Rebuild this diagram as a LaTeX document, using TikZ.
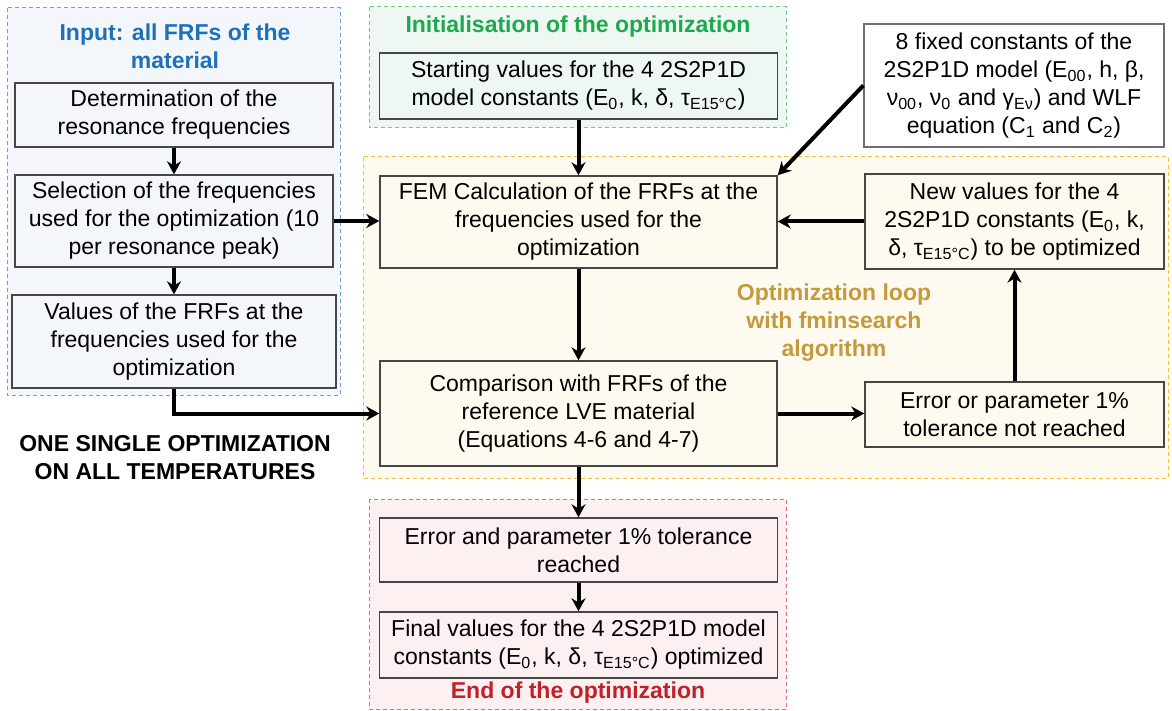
\documentclass[tikz,border=0pt]{standalone}
\usepackage{fontspec}
\setmainfont{Liberation Sans}
\definecolor{inblue}{RGB}{30,112,185}
\definecolor{inblueline}{RGB}{110,160,210}
\definecolor{inbluebg}{RGB}{243,247,251}
\definecolor{initgreen}{RGB}{30,168,80}
\definecolor{initgreenline}{RGB}{110,200,140}
\definecolor{initgreenbg}{RGB}{238,247,241}
\definecolor{loopgold}{RGB}{196,154,60}
\definecolor{loopline}{RGB}{245,190,60}
\definecolor{loopbg}{RGB}{254,250,240}
\definecolor{endred}{RGB}{192,32,40}
\definecolor{endline}{RGB}{225,110,115}
\definecolor{endbg}{RGB}{252,240,240}
\definecolor{boxgray}{RGB}{70,70,70}
\definecolor{fixgray}{RGB}{110,110,110}
\usetikzlibrary{arrows.meta}

\begin{document}
\begin{tikzpicture}[x=0.5pt,y=-0.5pt,>={Stealth[length=6.5pt,width=7pt]},
    every node/.style={font=\fontsize{11.5}{14}\selectfont},
    box/.style={draw=boxgray,line width=0.7pt,align=center,inner sep=2pt},
    region/.style={line width=0.5pt,dash pattern=on 2pt off 1.5pt},
    title/.style={font=\fontsize{11.5}{14}\selectfont\bfseries,align=center},
    flow/.style={->,line width=2pt}]
        \useasboundingbox (0,0) rectangle (1172,711);
        \fill[white] (0,0) rectangle (1172,711);

        \draw[region,draw=inblueline,fill=inbluebg] (7,8) rectangle (340,395);
        \draw[region,draw=initgreenline,fill=initgreenbg] (369,7) rectangle (786,128);
        \draw[region,draw=loopline,fill=loopbg] (363,157) rectangle (1168,478);
        \draw[region,draw=endline,fill=endbg] (369,499) rectangle (786,709.5);

        \node[title,text=inblue] (intitle) at (175,46.5) {Input: all FRFs of the\\material};
        \node[box,fill=inbluebg,minimum width=159pt,minimum height=32pt] (reso) at (174,115) {Determination of the\\resonance frequencies};
        \node[box,fill=inbluebg,minimum width=159pt,minimum height=46pt] (select) at (174,221) {Selection of the frequencies\\used for the optimization (10\\per resonance peak)};
        \node[box,fill=inbluebg,minimum width=162pt,minimum height=46.5pt] (values) at (174,341.5) {Values of the FRFs at the\\frequencies used for the\\optimization};
        \node[title] (single) at (175,458) {ONE SINGLE OPTIMIZATION\\ON ALL TEMPERATURES};

        \node[title,text=initgreen] (inittitle) at (578,27) {Initialisation of the optimization};
        \node[box,fill=initgreenbg,minimum width=199pt,minimum height=33pt] (start) at (578.5,86) {Starting values for the 4 2S2P1D\\model constants (E\textsubscript{0}, k, δ, τ\textsubscript{E15°C})};
        \node[box,draw=fixgray,fill=white,minimum width=150pt,minimum height=61.5pt] (fixed) at (1014,85.5) {8 fixed constants of the\\2S2P1D model (E\textsubscript{00}, h, β,\\ν\textsubscript{00}, ν\textsubscript{0} and γ\textsubscript{Eν}) and WLF\\equation (C\textsubscript{1} and C\textsubscript{2})};

        \node[box,fill=loopbg,minimum width=198.5pt,minimum height=46pt] (fem) at (578.5,222) {FEM Calculation of the FRFs at the\\frequencies used for the\\optimization};
        \node[box,fill=loopbg,minimum width=198.5pt,minimum height=52.5pt] (compare) at (578.5,413.5) {Comparison with FRFs of the\\reference LVE material\\(Equations 4-6 and 4-7)};
        \node[box,fill=loopbg,minimum width=149.5pt,minimum height=47.5pt] (newval) at (1014.5,221.5) {New values for the 4\\2S2P1D constants (E\textsubscript{0}, k,\\δ, τ\textsubscript{E15°C}) to be optimized};
        \node[box,fill=loopbg,minimum width=149.5pt,minimum height=32.5pt] (notreached) at (1014.5,414.5) {Error or parameter 1\%\\tolerance not reached};
        \node[title,text=loopgold] (looptitle) at (834,323) {Optimization loop\\with fminsearch\\algorithm};

        \node[box,fill=endbg,minimum width=199pt,minimum height=32pt] (reached) at (578.5,550) {Error and parameter 1\% tolerance\\reached};
        \node[box,fill=endbg,minimum width=199pt,minimum height=33pt] (final) at (578.5,645) {Final values for the 4 2S2P1D model\\constants (E\textsubscript{0}, k, δ, τ\textsubscript{E15°C}) optimized};
        \node[title,text=endred] (endtitle) at (578,693) {End of the optimization};

        \draw[flow] (reso) -- (select);
        \draw[flow] (select) -- (values);
        \draw[flow] (select.east) -- (select.east -| fem.west);
        \draw[flow] (values.south) |- (compare.west);
        \draw[flow] (start) -- (fem);
        \draw[flow] (fixed.west) -- (fem.north east);
        \draw[flow] (fem) -- (compare);
        \draw[flow] (compare.east) -- (compare.east -| notreached.west);
        \draw[flow] (notreached) -- (newval);
        \draw[flow] (newval.west) -- (newval.west -| fem.east);
        \draw[flow] (compare) -- (reached);
        \draw[flow] (reached) -- (final);
      \end{tikzpicture}
\end{document}
